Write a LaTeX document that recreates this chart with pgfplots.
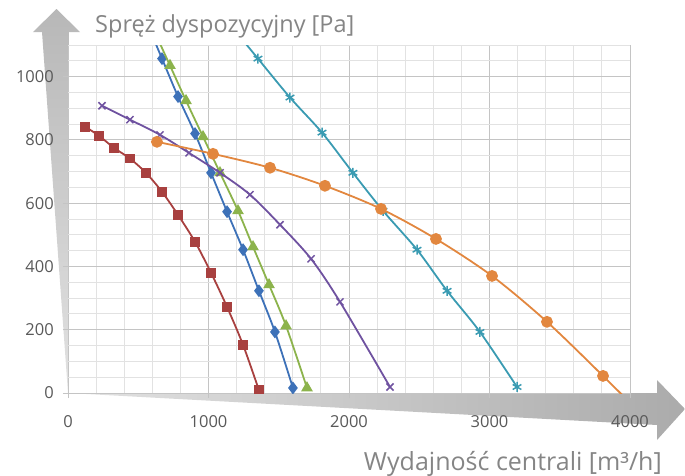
\documentclass[border=0pt]{standalone}
\usepackage{fontspec}
\setmainfont{Open Sans}
\usepackage{pgfplots}
\pgfplotsset{compat=1.18}

\definecolor{cblue}{HTML}{3D71B8}
\definecolor{cred}{HTML}{A8403F}
\definecolor{cgreen}{HTML}{8CB34C}
\definecolor{cpurple}{HTML}{6F52A0}
\definecolor{cteal}{HTML}{3A9BB2}
\definecolor{corange}{HTML}{E2873F}
\definecolor{gridmajor}{HTML}{C4C4C4}
\definecolor{gridminor}{HTML}{E2E2E2}
\definecolor{txt}{HTML}{595959}
\definecolor{ttl}{HTML}{858585}
\definecolor{arrlight}{HTML}{E2E2E2}
\definecolor{arrdark}{HTML}{ABABAB}

\begin{document}
\begin{tikzpicture}
% page = 685 x 475, axis origin sits at (68,82) from the page's lower left
\useasboundingbox (-68pt,-82pt) rectangle (617pt,393pt);

\begin{scope}[x=1pt, y=1pt, shift={(-68pt,-82pt)}]
% big grey arrows behind the axes
\shade[left color=arrlight, right color=arrdark]
  (68,82) -- (657,82) -- (657,95) -- (685,66) -- (657,35) -- (657,50) -- cycle;
\shade[bottom color=arrlight, top color=arrdark!85]
  (68,82) -- (69,443) -- (80,443) -- (56.5,466) -- (33,443) -- (42,443) -- cycle;
\end{scope}

\begin{axis}[
    anchor=origin, at={(0,0)},
    scale only axis,
    width=562pt, height=348pt,
    xmin=0, xmax=4000, ymin=0, ymax=1100,
    xtick={0,1000,...,4000},
    minor xtick={200,400,...,3800},
    ytick={0,200,...,1000},
    minor ytick={50,100,...,1100},
    grid=both,
    major grid style={color=gridmajor, line width=0.9pt},
    minor grid style={color=gridminor, line width=0.9pt},
    axis line style={draw=none},
    tick pos=left,
    tick align=outside,
    major tick length=5pt,
    minor tick length=0pt,
    tick style={color=gridmajor, line width=0.9pt},
    /pgf/number format/assume math mode=true,
    /pgf/number format/set thousands separator={},
    tick label style={font=\fontsize{16.5}{19}\selectfont, color=txt},
    xticklabel style={yshift=-13pt},
    yticklabel style={xshift=-5pt},
    clip marker paths=true,
    line width=1.8pt,
    every axis plot/.append style={smooth, tension=0.5},
  ]

  % red, squares
  \addplot[color=cred, mark=square*, mark size=4pt] coordinates {
    (121,842) (221,813) (327,775) (441,741) (555,696) (669,636)
    (783,563) (904,478) (1018,380) (1132,272) (1246,152) (1359,9)
  };

  % blue, diamonds (first point runs above the plot)
  \addplot[color=cblue, mark=diamond*, mark size=5pt] coordinates {
    (555,1177) (669,1057) (783,937) (904,820) (1018,696) (1132,573)
    (1246,453) (1359,323) (1473,193) (1601,16)
  };

  % green, triangles
  \addplot[color=cgreen, mark=triangle*, mark size=5pt] coordinates {
    (612,1146) (726,1035) (840,924) (961,810) (1082,696) (1210,576)
    (1317,462) (1431,342) (1552,212) (1701,16)
  };

  % purple, crosses
  \addplot[color=cpurple, mark=x, mark size=5pt, mark options={line width=1.5pt}] coordinates {
    (242,908) (441,864) (655,816) (861,759) (1082,696) (1295,627)
    (1509,532) (1730,424) (1936,288) (2292,19)
  };

  % teal, stars
  \addplot[color=cteal, mark=asterisk, mark size=5pt, mark options={line width=1.5pt}] coordinates {
    (1125,1180) (1352,1057) (1580,934) (1808,823) (2028,696) (2242,576)
    (2484,453) (2698,323) (2932,193) (3196,19)
  };

  % orange, circles (last point runs below the plot)
  \addplot[color=corange, mark=*, mark size=5pt] coordinates {
    (633,794) (1032,756) (1438,712) (1829,655) (2228,582) (2619,487)
    (3018,370) (3409,225) (3808,54) (4200,-120)
  };

\end{axis}

\begin{scope}[x=1pt, y=1pt, shift={(-68pt,-82pt)}]
\node[anchor=base west, inner sep=0pt, color=ttl, font=\fontsize{23.5}{28}\selectfont]
  at (95,443) {Spręż dyspozycyjny [Pa]};
\node[anchor=base east, inner sep=0pt, color=ttl, font=\fontsize{25}{30}\selectfont]
  at (662,5) {Wydajność centrali [m³/h]};
\end{scope}
\end{tikzpicture}
\end{document}
